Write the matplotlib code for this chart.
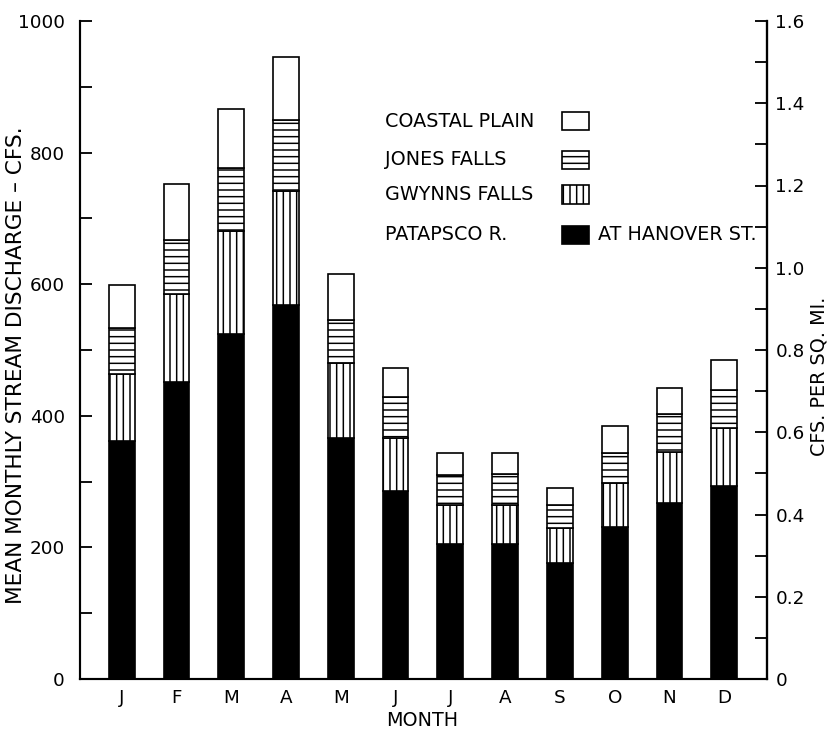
import matplotlib
matplotlib.use('Agg')
import matplotlib.pyplot as plt
import numpy as np
from matplotlib.patches import Rectangle

# mean monthly discharge (cfs) contributed by each area, stacked bottom -> top
months = ['J', 'F', 'M', 'A', 'M', 'J', 'J', 'A', 'S', 'O', 'N', 'D']
patapsco = [362, 452, 525, 569, 366, 285, 205, 205, 176, 231, 268, 294]
gwynns = [101, 133, 156, 172, 114, 81, 59, 60, 53, 67, 77, 87]
jones = [71, 82, 96, 108, 66, 62, 46, 46, 35, 46, 57, 58]
coastal = [65, 85, 89, 96, 70, 45, 34, 33, 27, 41, 40, 46]

left_ticks = list(range(0, 1001, 100))
right_ticks = [round(0.1 * i, 1) for i in range(17)]

plt.rcParams['font.family'] = 'DejaVu Sans'
plt.rcParams['hatch.linewidth'] = 0.9
plt.rcParams['hatch.color'] = 'black'

fig = plt.figure(figsize=(832 / 120, 730 / 120), dpi=120)
ax = fig.add_axes([80 / 832, 51 / 730, 687 / 832, 658 / 730])

x = np.arange(len(months))
w = 0.47
bottom = np.zeros(len(months))
styles = [
    (patapsco, 'PATAPSCO R.', 'black', ''),
    (gwynns, 'GWYNNS FALLS', 'white', '|||'),
    (jones, 'JONES FALLS', 'white', '---'),
    (coastal, 'COASTAL PLAIN', 'white', ''),
]
for vals, lab, col, hatch in styles:
    ax.bar(x, vals, w, bottom=bottom, color=col, edgecolor='black',
           hatch=hatch, linewidth=1.0)
    bottom += np.array(vals)

ax.set_xlim(-0.76, 11.78)
ax.set_ylim(0, 1000)
ax.spines['top'].set_visible(False)
for s in ['left', 'right', 'bottom']:
    ax.spines[s].set_linewidth(1.3)

ax.set_yticks(left_ticks, [str(v) if v % 200 == 0 else '' for v in left_ticks])
ax.tick_params(axis='y', direction='in', length=7, width=1.1, pad=9, labelsize=11)
ax.set_xticks(x, months)
ax.tick_params(axis='x', length=0, pad=6, labelsize=11)

ax.set_xlabel('MONTH', fontsize=11.5)
ax.xaxis.set_label_coords(0.498, -0.048)
ax.set_ylabel('MEAN MONTHLY STREAM DISCHARGE – CFS.', fontsize=13)
ax.yaxis.set_label_coords(-0.078, 0.477)

ax2 = ax.twinx()
ax2.set_ylim(0, 1.6)
ax2.set_yticks(right_ticks, ['0' if v == 0 else (f'{v:.1f}' if round(v * 10) % 2 == 0 else '')
                             for v in right_ticks])
ax2.tick_params(axis='y', direction='in', length=7, width=1.1, pad=5, labelsize=11)
for s in ['top', 'left', 'bottom']:
    ax2.spines[s].set_visible(False)
ax2.spines['right'].set_linewidth(1.3)
ax2.set_ylabel('CFS. PER SQ. MI.', fontsize=11.5)
ax2.yaxis.set_label_coords(1.062, 0.46)

# key, drawn in the upper middle of the plot
key_y = {'COASTAL PLAIN': 0.848, 'JONES FALLS': 0.789, 'GWYNNS FALLS': 0.736, 'PATAPSCO R.': 0.675}
for vals, lab, col, hatch in styles:
    yy = key_y[lab]
    ax.text(0.444, yy, lab, transform=ax.transAxes, fontsize=11.5, va='center', ha='left')
    ax.add_patch(Rectangle((0.702, yy - 0.014), 0.039, 0.028, transform=ax.transAxes,
                           facecolor=col, edgecolor='black', hatch=hatch, linewidth=1.0))
ax.text(0.754, key_y['PATAPSCO R.'], 'AT HANOVER ST.', transform=ax.transAxes,
        fontsize=11.5, va='center', ha='left')

fig.savefig('out.png', dpi=120)
